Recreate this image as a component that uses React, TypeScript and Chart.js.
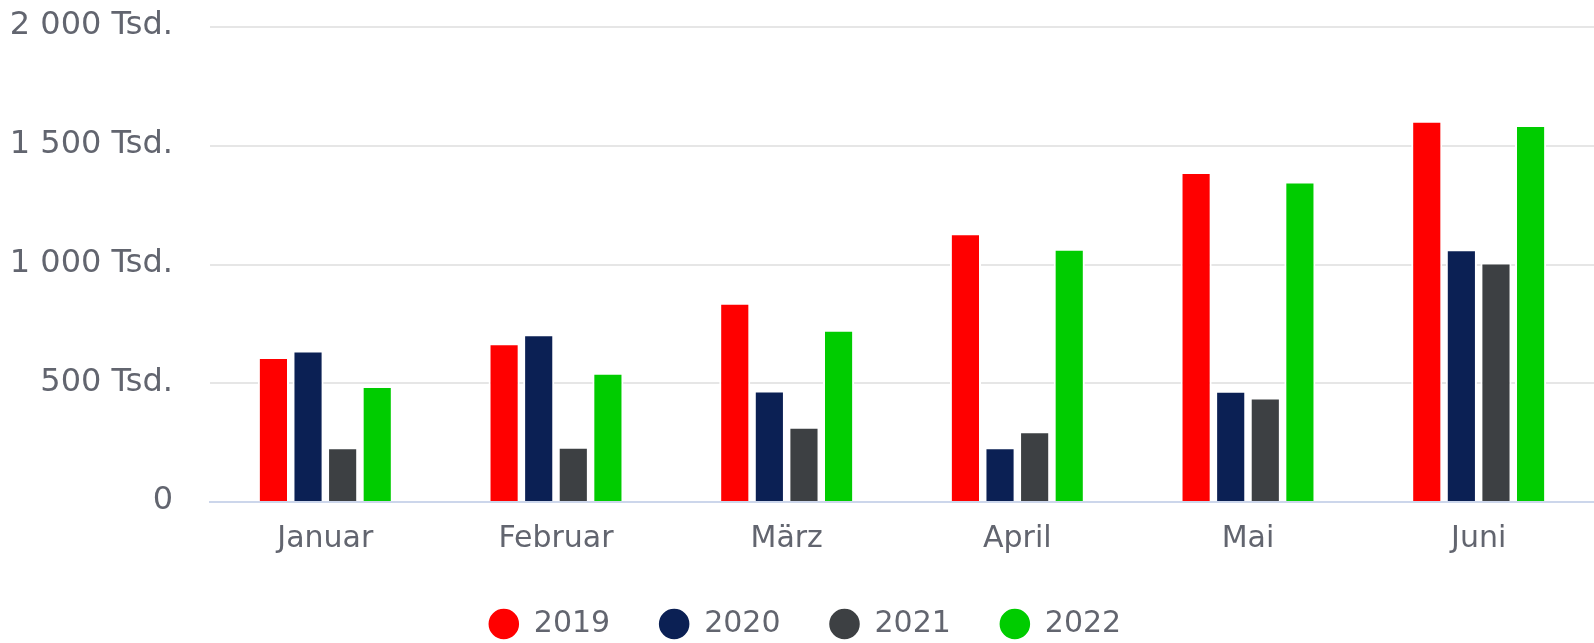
import React, { useEffect, useRef } from "react";
import { Chart, registerables } from "chart.js";

Chart.register(...registerables);

const categories = ["Januar", "Februar", "März", "April", "Mai", "Juni"];
const seriesNames = ["2019", "2020", "2021", "2022"];
const values2019 = [611, 668, 839, 1132, 1389, 1605];
const values2020 = [638, 706, 469, 231, 468, 1064];
const values2021 = [231, 233, 317, 298, 440, 1008];
const values2022 = [488, 544, 725, 1066, 1350, 1587];
const seriesColors = ["#ff0000", "#0b2054", "#3d4043", "#00cc00"];
const yTickValues = [0, 500, 1000, 1500, 2000];

const FONT = "'DejaVu Sans', 'Lucida Grande', sans-serif";
const TEXT_COLOR = "#62656f";

function formatTick(v: number): string {
  if (v === 0) return "0";
  const s = String(v).replace(/\B(?=(\d{3})+(?!\d))/g, " ");
  return s + " Tsd.";
}

const legendShift = {
  id: "legendShift",
  afterLayout(chart: any) {
    if (chart.legend) {
      chart.legend.left += 8;
      chart.legend.right += 8;
    }
  },
};

export default function App() {
  const canvasRef = useRef<HTMLCanvasElement | null>(null);

  useEffect(() => {
    const canvas = canvasRef.current;
    if (!canvas) return;
    const seriesValues = [values2019, values2020, values2021, values2022];
    const chart = new Chart(canvas, {
      type: "bar",
      data: {
        labels: categories,
        datasets: seriesNames.map((name, i) => ({
          label: name,
          data: seriesValues[i],
          backgroundColor: seriesColors[i],
          borderColor: "#ffffff",
          borderWidth: 2,
          borderSkipped: "start",
          categoryPercentage: 0.6,
          barPercentage: 0.9,
        })),
      },
      plugins: [legendShift],
      options: {
        animation: false,
        responsive: false,
        devicePixelRatio: 1,
        layout: {
          autoPadding: false,
          padding: { top: 27, left: 0, right: 0, bottom: 0 },
        },
        plugins: {
          legend: {
            position: "bottom",
            maxHeight: 83,
            labels: {
              usePointStyle: true,
              pointStyle: "circle",
              boxWidth: 31,
              boxHeight: 23,
              padding: 49,
              color: TEXT_COLOR,
              font: { family: FONT, size: 30 },
            },
          },
          tooltip: { enabled: false },
        },
        scales: {
          x: {
            grid: { display: false, drawTicks: false },
            border: { display: true, color: "#ccd6eb", width: 2 },
            ticks: {
              padding: 19,
              color: TEXT_COLOR,
              font: { family: FONT, size: 30 },
            },
            afterFit: (scale: any) => {
              scale.height = 58;
            },
          },
          y: {
            min: 0,
            max: 2000,
            afterBuildTicks: (scale: any) => {
              scale.ticks = yTickValues.map((v) => ({ value: v }));
            },
            ticks: {
              padding: 0,
              labelOffset: -1,
              color: TEXT_COLOR,
              font: { family: FONT, size: 32 },
              callback: (v: any) => formatTick(Number(v)),
            },
            grid: {
              color: (ctx: any) =>
                ctx.tick && ctx.tick.value === 0 ? "rgba(0,0,0,0)" : "#e6e6e6",
              lineWidth: 2,
              drawTicks: true,
              tickLength: 37,
              tickColor: "rgba(0,0,0,0)",
            },
            border: { display: false },
            afterFit: (scale: any) => {
              scale.width = 210;
            },
          },
        },
      } as any,
    });
    return () => {
      chart.destroy();
    };
  }, []);

  return (
    <div
      style={{
        position: "fixed",
        left: 0,
        top: 0,
        width: 1594,
        height: 643,
        background: "#ffffff",
      }}
    >
      <canvas ref={canvasRef} width={1594} height={643} style={{ display: "block" }} />
    </div>
  );
}
